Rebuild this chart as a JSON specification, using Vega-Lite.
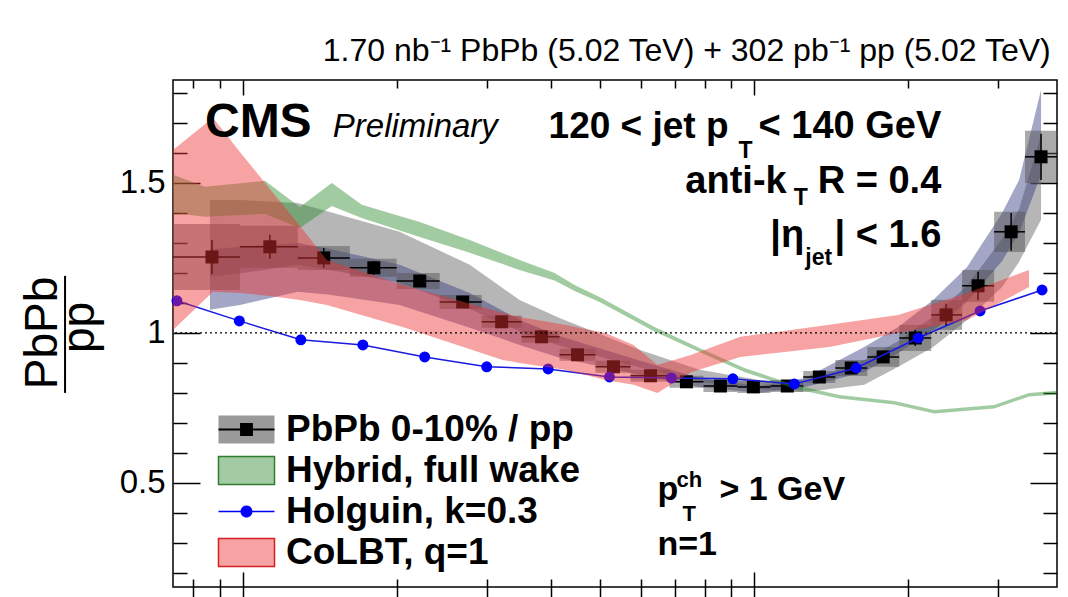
{
  "$schema": "https://vega.github.io/schema/vega-lite/v6.json",
  "width": 884,
  "height": 507,
  "autosize": {"type": "none"},
  "padding": {"left": 173, "top": 80, "right": 11, "bottom": 10},
  "background": "white",
  "title": {"text": "1.70 nb⁻¹ PbPb (5.02 TeV) + 302 pb⁻¹ pp (5.02 TeV)", "anchor": "end", "font": "Liberation Sans", "fontSize": 32, "fontWeight": "normal", "color": "black", "baseline": "alphabetic", "offset": -14, "dx": -7},
  "config": {
    "view": {"stroke": "black", "strokeWidth": 1.5},
    "axis": {"tickColor": "black", "tickWidth": 1.5, "domain": false, "grid": false, "labelColor": "black", "title": null}
  },
  "datasets": {
    "legend": [
      {"label": "PbPb 0-10% / pp"}, {"label": "Hybrid, full wake"}, {"label": "Holguin, k=0.3"}, {"label": "CoLBT, q=1"}
    ],
    "pbpb": [
      {"x": 0.870, "xlo": 0.730, "xhi": 0.9866, "y": 1.253, "elo": 1.196, "ehi": 1.310, "slo": 1.143, "shi": 1.363},
      {"x": 1.129, "xlo": 0.9866, "xhi": 1.280, "y": 1.287, "elo": 1.247, "ehi": 1.327, "slo": 1.217, "shi": 1.357},
      {"x": 1.439, "xlo": 1.280, "xhi": 1.618, "y": 1.250, "elo": 1.217, "ehi": 1.283, "slo": 1.210, "shi": 1.290},
      {"x": 1.803, "xlo": 1.618, "xhi": 1.998, "y": 1.217, "elo": 1.194, "ehi": 1.240, "slo": 1.187, "shi": 1.247},
      {"x": 2.217, "xlo": 1.998, "xhi": 2.425, "y": 1.173, "elo": 1.153, "ehi": 1.193, "slo": 1.146, "shi": 1.200},
      {"x": 2.690, "xlo": 2.425, "xhi": 2.930, "y": 1.103, "elo": 1.086, "ehi": 1.120, "slo": 1.080, "shi": 1.126},
      {"x": 3.206, "xlo": 2.930, "xhi": 3.507, "y": 1.037, "elo": 1.020, "ehi": 1.054, "slo": 1.017, "shi": 1.057},
      {"x": 3.837, "xlo": 3.507, "xhi": 4.160, "y": 0.987, "elo": 0.970, "ehi": 1.004, "slo": 0.967, "shi": 1.007},
      {"x": 4.511, "xlo": 4.160, "xhi": 4.891, "y": 0.927, "elo": 0.914, "ehi": 0.940, "slo": 0.907, "shi": 0.947},
      {"x": 5.303, "xlo": 4.891, "xhi": 5.726, "y": 0.887, "elo": 0.874, "ehi": 0.900, "slo": 0.867, "shi": 0.907},
      {"x": 6.264, "xlo": 5.726, "xhi": 6.823, "y": 0.857, "elo": 0.844, "ehi": 0.870, "slo": 0.837, "shi": 0.877},
      {"x": 7.365, "xlo": 6.823, "xhi": 7.953, "y": 0.837, "elo": 0.824, "ehi": 0.850, "slo": 0.817, "shi": 0.857},
      {"x": 8.583, "xlo": 7.953, "xhi": 9.265, "y": 0.823, "elo": 0.810, "ehi": 0.836, "slo": 0.803, "shi": 0.843},
      {"x": 9.955, "xlo": 9.265, "xhi": 10.75, "y": 0.820, "elo": 0.807, "ehi": 0.833, "slo": 0.800, "shi": 0.840},
      {"x": 11.60, "xlo": 10.75, "xhi": 12.46, "y": 0.823, "elo": 0.810, "ehi": 0.836, "slo": 0.803, "shi": 0.843},
      {"x": 13.40, "xlo": 12.46, "xhi": 14.40, "y": 0.853, "elo": 0.840, "ehi": 0.866, "slo": 0.833, "shi": 0.873},
      {"x": 15.47, "xlo": 14.40, "xhi": 16.63, "y": 0.883, "elo": 0.866, "ehi": 0.900, "slo": 0.856, "shi": 0.910},
      {"x": 17.86, "xlo": 16.63, "xhi": 19.20, "y": 0.920, "elo": 0.900, "ehi": 0.940, "slo": 0.887, "shi": 0.953},
      {"x": 20.63, "xlo": 19.20, "xhi": 22.17, "y": 0.983, "elo": 0.956, "ehi": 1.010, "slo": 0.940, "shi": 1.026},
      {"x": 23.71, "xlo": 22.17, "xhi": 25.48, "y": 1.060, "elo": 1.023, "ehi": 1.097, "slo": 1.010, "shi": 1.110},
      {"x": 27.38, "xlo": 25.48, "xhi": 29.43, "y": 1.157, "elo": 1.110, "ehi": 1.204, "slo": 1.104, "shi": 1.210},
      {"x": 31.77, "xlo": 29.43, "xhi": 33.82, "y": 1.337, "elo": 1.274, "ehi": 1.400, "slo": 1.270, "shi": 1.404},
      {"x": 36.35, "xlo": 33.82, "xhi": 39.06, "y": 1.587, "elo": 1.510, "ehi": 1.664, "slo": 1.500, "shi": 1.674}
    ],
    "holguin": [
      {"x": 0.743, "y": 1.107}, {"x": 0.984, "y": 1.040}, {"x": 1.298, "y": 0.977},
      {"x": 1.716, "y": 0.960}, {"x": 2.267, "y": 0.920}, {"x": 2.997, "y": 0.887},
      {"x": 3.952, "y": 0.880}, {"x": 5.209, "y": 0.853}, {"x": 6.884, "y": 0.850},
      {"x": 9.078, "y": 0.847}, {"x": 11.97, "y": 0.830}, {"x": 15.82, "y": 0.883},
      {"x": 20.91, "y": 0.983}, {"x": 27.63, "y": 1.073}, {"x": 36.52, "y": 1.143}
    ],
    "hybrid": [
      {"x": 0.730, "hi": 1.527, "lo": 1.400}, {"x": 0.843, "hi": 1.487, "lo": 1.387},
      {"x": 1.104, "hi": 1.507, "lo": 1.397}, {"x": 1.292, "hi": 1.420, "lo": 1.350},
      {"x": 1.492, "hi": 1.500, "lo": 1.423}, {"x": 1.708, "hi": 1.427, "lo": 1.383},
      {"x": 2.217, "hi": 1.370, "lo": 1.320}, {"x": 2.776, "hi": 1.310, "lo": 1.267},
      {"x": 3.475, "hi": 1.243, "lo": 1.210}, {"x": 4.068, "hi": 1.200, "lo": 1.175},
      {"x": 4.450, "hi": 1.160, "lo": 1.140}, {"x": 4.982, "hi": 1.120, "lo": 1.103},
      {"x": 6.377, "hi": 1.020, "lo": 1.005}, {"x": 7.810, "hi": 0.950, "lo": 0.936},
      {"x": 9.561, "hi": 0.883, "lo": 0.870}, {"x": 11.97, "hi": 0.827, "lo": 0.814},
      {"x": 14.66, "hi": 0.793, "lo": 0.781}, {"x": 18.77, "hi": 0.773, "lo": 0.761},
      {"x": 22.47, "hi": 0.743, "lo": 0.731}, {"x": 29.43, "hi": 0.760, "lo": 0.748},
      {"x": 34.44, "hi": 0.800, "lo": 0.788}, {"x": 39.06, "hi": 0.807, "lo": 0.795}
    ],
    "colbt": [
      {"x": 0.730, "hi": 1.610, "lo": 1.010}, {"x": 0.874, "hi": 1.717, "lo": 1.137},
      {"x": 0.9866, "hi": 1.603, "lo": 1.133}, {"x": 1.129, "hi": 1.480, "lo": 1.123},
      {"x": 1.292, "hi": 1.357, "lo": 1.110}, {"x": 1.459, "hi": 1.243, "lo": 1.093},
      {"x": 2.053, "hi": 1.160, "lo": 1.020}, {"x": 3.220, "hi": 1.067, "lo": 0.910},
      {"x": 3.475, "hi": 1.053, "lo": 0.900}, {"x": 4.255, "hi": 1.027, "lo": 0.877},
      {"x": 5.117, "hi": 1.000, "lo": 0.843}, {"x": 5.805, "hi": 0.960, "lo": 0.827},
      {"x": 6.463, "hi": 0.893, "lo": 0.800}, {"x": 7.534, "hi": 0.927, "lo": 0.870},
      {"x": 9.391, "hi": 0.987, "lo": 0.920}, {"x": 14.01, "hi": 1.027, "lo": 0.953},
      {"x": 19.11, "hi": 1.060, "lo": 1.000}, {"x": 26.06, "hi": 1.133, "lo": 1.043},
      {"x": 34.44, "hi": 1.210, "lo": 1.153}
    ],
    "grayband": [
      {"x": 0.862, "hi": 1.443, "lo": 1.187}, {"x": 0.9866, "hi": 1.443, "lo": 1.198},
      {"x": 1.280, "hi": 1.433, "lo": 1.227}, {"x": 1.479, "hi": 1.403, "lo": 1.210},
      {"x": 2.025, "hi": 1.337, "lo": 1.167}, {"x": 2.776, "hi": 1.227, "lo": 1.080},
      {"x": 3.475, "hi": 1.110, "lo": 1.005}, {"x": 4.160, "hi": 1.050, "lo": 0.957},
      {"x": 5.977, "hi": 0.943, "lo": 0.885}, {"x": 7.810, "hi": 0.877, "lo": 0.837},
      {"x": 10.23, "hi": 0.843, "lo": 0.813}, {"x": 12.58, "hi": 0.833, "lo": 0.803},
      {"x": 16.40, "hi": 0.910, "lo": 0.827}, {"x": 19.11, "hi": 0.973, "lo": 0.887},
      {"x": 22.37, "hi": 1.055, "lo": 0.953}, {"x": 26.06, "hi": 1.158, "lo": 1.043},
      {"x": 30.51, "hi": 1.313, "lo": 1.153}, {"x": 32.93, "hi": 1.413, "lo": 1.237},
      {"x": 36.35, "hi": 1.658, "lo": 1.377}
    ],
    "blueband": [
      {"x": 0.862, "hi": 1.278, "lo": 1.077}, {"x": 0.9866, "hi": 1.287, "lo": 1.093},
      {"x": 1.280, "hi": 1.300, "lo": 1.137}, {"x": 1.479, "hi": 1.280, "lo": 1.127},
      {"x": 2.025, "hi": 1.227, "lo": 1.093}, {"x": 2.776, "hi": 1.133, "lo": 1.017},
      {"x": 3.475, "hi": 1.043, "lo": 0.960}, {"x": 4.160, "hi": 0.990, "lo": 0.917},
      {"x": 5.977, "hi": 0.907, "lo": 0.860}, {"x": 7.810, "hi": 0.850, "lo": 0.820},
      {"x": 10.23, "hi": 0.823, "lo": 0.800}, {"x": 12.58, "hi": 0.850, "lo": 0.820},
      {"x": 16.40, "hi": 0.953, "lo": 0.870}, {"x": 19.11, "hi": 1.020, "lo": 0.933},
      {"x": 22.37, "hi": 1.110, "lo": 1.008}, {"x": 26.06, "hi": 1.220, "lo": 1.105},
      {"x": 30.51, "hi": 1.400, "lo": 1.240}, {"x": 32.93, "hi": 1.510, "lo": 1.333},
      {"x": 36.35, "hi": 1.810, "lo": 1.528}
    ]
  },
  "layer": [
    {
      "data": {"name": "legend"},
      "mark": {"type": "point", "opacity": 0, "filled": true},
      "encoding": {
        "fill": {"field": "label", "type": "nominal",
          "scale": {"domain": ["PbPb 0-10% / pp", "Hybrid, full wake", "Holguin, k=0.3", "CoLBT, q=1"], "range": ["#9a9a9a", "#a3cba3", "#0000ff", "#f7a3a3"]},
          "legend": {
            "orient": "none", "legendX": 55, "legendY": 331, "title": null, "direction": "vertical", "zindex": 1,
            "symbolSize": 784, "symbolOpacity": 1, "symbolStrokeWidth": 1.5,
            "labelFont": "Liberation Sans", "labelFontWeight": "bold", "labelFontSize": 37, "labelColor": "black", "labelLimit": 0,
            "labelOffset": 21, "rowPadding": 3, "padding": 0, "offset": 0
          }
        },
        "stroke": {"field": "label", "type": "nominal",
          "scale": {"domain": ["PbPb 0-10% / pp", "Hybrid, full wake", "Holguin, k=0.3", "CoLBT, q=1"], "range": ["transparent", "#2e7d2e", "transparent", "#d42020"]},
          "legend": {
            "orient": "none", "legendX": 55, "legendY": 331, "title": null, "direction": "vertical", "zindex": 1,
            "symbolSize": 784, "symbolOpacity": 1, "symbolStrokeWidth": 1.5,
            "labelFont": "Liberation Sans", "labelFontWeight": "bold", "labelFontSize": 37, "labelColor": "black", "labelLimit": 0,
            "labelOffset": 21, "rowPadding": 3, "padding": 0, "offset": 0
          }
        },
        "shape": {"field": "label", "type": "nominal",
          "scale": {"domain": ["PbPb 0-10% / pp", "Hybrid, full wake", "Holguin, k=0.3", "CoLBT, q=1"], "range": ["M-2,-1H2V1H-2Z", "M-2,-1H2V1H-2Z", "M-2,-0.06H2V0.06H-2ZM0.43,0A0.43,0.43,0,1,1,-0.43,0A0.43,0.43,0,1,1,0.43,0Z", "M-2,-1H2V1H-2Z"]},
          "legend": {
            "orient": "none", "legendX": 55, "legendY": 331, "title": null, "direction": "vertical", "zindex": 1,
            "symbolSize": 784, "symbolOpacity": 1, "symbolStrokeWidth": 1.5,
            "labelFont": "Liberation Sans", "labelFontWeight": "bold", "labelFontSize": 37, "labelColor": "black", "labelLimit": 0,
            "labelOffset": 21, "rowPadding": 3, "padding": 0, "offset": 0
          }
        }
      }
    },
    {
      "data": {"name": "grayband"},
      "mark": {"type": "area", "fill": "#7a7a7a", "fillOpacity": 0.55},
      "encoding": {
        "x": {"field": "x", "type": "quantitative", "scale": {"type": "log", "domain": [0.73, 39.06], "nice": false},
              "axis": {"orient": "bottom", "values": [1, 10], "tickSize": -15, "labels": false}},
        "y": {"field": "hi", "type": "quantitative", "scale": {"domain": [0.153, 1.843], "nice": false, "zero": false},
              "axis": {"orient": "left", "values": [0.5, 1, 1.5], "tickSize": -27, "format": "~g", "labelFont": "Liberation Sans", "labelFontSize": 33, "labelPadding": 35}},
        "y2": {"field": "lo"}
      }
    },
    {
      "data": {"name": "blueband"},
      "mark": {"type": "area", "fill": "#343a7c", "fillOpacity": 0.45},
      "encoding": {
        "x": {"field": "x", "type": "quantitative", "axis": {"orient": "top", "values": [1, 10], "tickSize": -15, "labels": false}},
        "y": {"field": "hi", "type": "quantitative", "axis": {"orient": "right", "values": [0.5, 1, 1.5], "tickSize": -27, "labels": false}},
        "y2": {"field": "lo"}
      }
    },
    {
      "data": {"name": "pbpb"},
      "mark": {"type": "rect", "fill": "#555555", "fillOpacity": 0.5},
      "encoding": {
        "x": {"field": "xlo", "type": "quantitative", "axis": {"orient": "bottom", "values": [0.8, 0.9, 2, 3, 4, 5, 6, 7, 8, 9, 20, 30], "tickSize": -8, "labels": false}},
        "x2": {"field": "xhi"},
        "y": {"field": "slo", "type": "quantitative", "axis": {"orient": "left", "values": [0.2, 0.3, 0.4, 0.6, 0.7, 0.8, 0.9, 1.1, 1.2, 1.3, 1.4, 1.6, 1.7, 1.8], "tickSize": -14, "labels": false}},
        "y2": {"field": "shi"}
      }
    },
    {
      "data": {"name": "pbpb"},
      "mark": {"type": "rule", "color": "black", "strokeWidth": 1.5},
      "encoding": {
        "x": {"field": "x", "type": "quantitative", "axis": {"orient": "top", "values": [0.8, 0.9, 2, 3, 4, 5, 6, 7, 8, 9, 20, 30], "tickSize": -8, "labels": false}},
        "y": {"field": "elo", "type": "quantitative", "axis": {"orient": "right", "values": [0.2, 0.3, 0.4, 0.6, 0.7, 0.8, 0.9, 1.1, 1.2, 1.3, 1.4, 1.6, 1.7, 1.8], "tickSize": -14, "labels": false}},
        "y2": {"field": "ehi"}
      }
    },
    {
      "data": {"name": "pbpb"},
      "mark": {"type": "rule", "color": "black", "strokeWidth": 1.5},
      "encoding": {
        "x": {"field": "xlo", "type": "quantitative", "axis": {"orient": "bottom", "values": [0.8, 0.9, 1, 2, 3, 4, 5, 6, 7, 8, 9, 10, 20, 30], "tickSize": 10, "labels": false}},
        "x2": {"field": "xhi"},
        "y": {"field": "y", "type": "quantitative", "axis": null}
      }
    },
    {
      "data": {"name": "pbpb"},
      "mark": {"type": "square", "size": 169, "filled": true, "opacity": 1},
      "encoding": {
        "x": {"field": "x", "type": "quantitative", "axis": null},
        "y": {"field": "y", "type": "quantitative", "axis": null},
        "color": {"datum": "PbPb 0-10% / pp", "type": "nominal",
          "scale": {"domain": ["PbPb 0-10% / pp"], "range": ["black"]},
          "legend": {
            "orient": "none", "legendX": 55, "legendY": 331, "title": null, "direction": "vertical", "zindex": 5,
            "symbolType": "M-2,-0.08H2V0.08H-2ZM-0.46,-0.46H0.46V0.46H-0.46Z", "symbolSize": 784, "symbolOpacity": 1, "symbolStrokeWidth": 0,
            "labelFont": "Liberation Sans", "labelFontWeight": "bold", "labelFontSize": 37, "labelColor": "black", "labelOpacity": 0, "labelLimit": 0,
            "labelOffset": 21, "rowPadding": 3, "padding": 0, "offset": 0
          }
        }
      }
    },
    {
      "data": {"name": "hybrid"},
      "mark": {"type": "area", "fill": "#2e8b2e", "fillOpacity": 0.45},
      "encoding": {
        "x": {"field": "x", "type": "quantitative", "axis": null},
        "y": {"field": "hi", "type": "quantitative", "axis": null},
        "y2": {"field": "lo"}
      }
    },
    {
      "data": {"name": "holguin"},
      "mark": {"type": "line", "color": "#1a1ae0", "strokeWidth": 1.5},
      "encoding": {
        "x": {"field": "x", "type": "quantitative", "axis": null},
        "y": {"field": "y", "type": "quantitative", "axis": null}
      }
    },
    {
      "data": {"name": "holguin"},
      "mark": {"type": "circle", "size": 120, "opacity": 1, "color": "#0000ff"},
      "encoding": {
        "x": {"field": "x", "type": "quantitative", "axis": null},
        "y": {"field": "y", "type": "quantitative", "axis": null}
      }
    },
    {
      "data": {"name": "colbt"},
      "mark": {"type": "area", "fill": "#ee3333", "fillOpacity": 0.45},
      "encoding": {
        "x": {"field": "x", "type": "quantitative", "axis": null},
        "y": {"field": "hi", "type": "quantitative", "axis": null},
        "y2": {"field": "lo"}
      }
    },
    {
      "data": {"values": [{}]},
      "mark": {"type": "rule", "color": "black", "strokeWidth": 1.2, "strokeDash": [2, 3]},
      "encoding": {"y": {"datum": 1, "type": "quantitative", "axis": null}}
    },
    {
      "data": {"values": [{}]},
      "mark": {"type": "text", "text": "CMS", "font": "Liberation Sans", "fontWeight": "bold", "fontSize": 48, "align": "left", "baseline": "alphabetic", "color": "black"},
      "encoding": {"x": {"datum": 0.843, "type": "quantitative", "axis": null}, "y": {"datum": 1.653, "type": "quantitative", "axis": null}}
    },
    {
      "data": {"values": [{}]},
      "mark": {"type": "text", "text": "Preliminary", "font": "Liberation Sans", "fontStyle": "italic", "fontSize": 33, "align": "left", "baseline": "alphabetic", "color": "black"},
      "encoding": {"x": {"datum": 1.499, "type": "quantitative", "axis": null}, "y": {"datum": 1.653, "type": "quantitative", "axis": null}}
    },
    {
      "data": {"values": [{}]},
      "mark": {"type": "text", "text": "120 < jet p", "font": "Liberation Sans", "fontWeight": "bold", "fontSize": 37, "align": "left", "baseline": "alphabetic", "color": "black"},
      "encoding": {"x": {"datum": 3.96, "type": "quantitative", "axis": null}, "y": {"datum": 1.65, "type": "quantitative", "axis": null}}
    },
    {
      "data": {"values": [{}]},
      "mark": {"type": "text", "text": "T", "font": "Liberation Sans", "fontWeight": "bold", "fontSize": 23, "align": "left", "baseline": "alphabetic", "color": "black"},
      "encoding": {"x": {"datum": 9.306, "type": "quantitative", "axis": null}, "y": {"datum": 1.583, "type": "quantitative", "axis": null}}
    },
    {
      "data": {"values": [{}]},
      "mark": {"type": "text", "text": "< 140 GeV", "font": "Liberation Sans", "fontWeight": "bold", "fontSize": 38, "align": "right", "baseline": "alphabetic", "color": "black"},
      "encoding": {"x": {"datum": 23.2, "type": "quantitative", "axis": null}, "y": {"datum": 1.65, "type": "quantitative", "axis": null}}
    },
    {
      "data": {"values": [{}]},
      "mark": {"type": "text", "text": "anti-k", "font": "Liberation Sans", "fontWeight": "bold", "fontSize": 38, "align": "left", "baseline": "alphabetic", "color": "black"},
      "encoding": {"x": {"datum": 7.33, "type": "quantitative", "axis": null}, "y": {"datum": 1.467, "type": "quantitative", "axis": null}}
    },
    {
      "data": {"values": [{}]},
      "mark": {"type": "text", "text": "T", "font": "Liberation Sans", "fontWeight": "bold", "fontSize": 23, "align": "left", "baseline": "alphabetic", "color": "black"},
      "encoding": {"x": {"datum": 11.94, "type": "quantitative", "axis": null}, "y": {"datum": 1.427, "type": "quantitative", "axis": null}}
    },
    {
      "data": {"values": [{}]},
      "mark": {"type": "text", "text": "R = 0.4", "font": "Liberation Sans", "fontWeight": "bold", "fontSize": 38, "align": "right", "baseline": "alphabetic", "color": "black"},
      "encoding": {"x": {"datum": 23.2, "type": "quantitative", "axis": null}, "y": {"datum": 1.467, "type": "quantitative", "axis": null}}
    },
    {
      "data": {"values": [{}]},
      "mark": {"type": "text", "text": "|η", "font": "Liberation Sans", "fontWeight": "bold", "fontSize": 38, "align": "left", "baseline": "alphabetic", "color": "black"},
      "encoding": {"x": {"datum": 10.746, "type": "quantitative", "axis": null}, "y": {"datum": 1.287, "type": "quantitative", "axis": null}}
    },
    {
      "data": {"values": [{}]},
      "mark": {"type": "text", "text": "jet", "font": "Liberation Sans", "fontWeight": "bold", "fontSize": 23, "align": "left", "baseline": "alphabetic", "color": "black"},
      "encoding": {"x": {"datum": 12.58, "type": "quantitative", "axis": null}, "y": {"datum": 1.227, "type": "quantitative", "axis": null}}
    },
    {
      "data": {"values": [{}]},
      "mark": {"type": "text", "text": "| < 1.6", "font": "Liberation Sans", "fontWeight": "bold", "fontSize": 38, "align": "right", "baseline": "alphabetic", "color": "black"},
      "encoding": {"x": {"datum": 23.2, "type": "quantitative", "axis": null}, "y": {"datum": 1.287, "type": "quantitative", "axis": null}}
    },
    {
      "data": {"values": [{}]},
      "mark": {"type": "text", "text": "p", "font": "Liberation Sans", "fontWeight": "bold", "fontSize": 34, "align": "left", "baseline": "alphabetic", "color": "black"},
      "encoding": {"x": {"datum": 6.463, "type": "quantitative", "axis": null}, "y": {"datum": 0.443, "type": "quantitative", "axis": null}}
    },
    {
      "data": {"values": [{}]},
      "mark": {"type": "text", "text": "ch", "font": "Liberation Sans", "fontWeight": "bold", "fontSize": 22, "align": "left", "baseline": "alphabetic", "color": "black"},
      "encoding": {"x": {"datum": 7.043, "type": "quantitative", "axis": null}, "y": {"datum": 0.487, "type": "quantitative", "axis": null}}
    },
    {
      "data": {"values": [{}]},
      "mark": {"type": "text", "text": "T", "font": "Liberation Sans", "fontWeight": "bold", "fontSize": 22, "align": "left", "baseline": "alphabetic", "color": "black"},
      "encoding": {"x": {"datum": 7.234, "type": "quantitative", "axis": null}, "y": {"datum": 0.373, "type": "quantitative", "axis": null}}
    },
    {
      "data": {"values": [{}]},
      "mark": {"type": "text", "text": "> 1 GeV", "font": "Liberation Sans", "fontWeight": "bold", "fontSize": 34, "align": "left", "baseline": "alphabetic", "color": "black"},
      "encoding": {"x": {"datum": 8.545, "type": "quantitative", "axis": null}, "y": {"datum": 0.443, "type": "quantitative", "axis": null}}
    },
    {
      "data": {"values": [{}]},
      "mark": {"type": "text", "text": "n=1", "font": "Liberation Sans", "fontWeight": "bold", "fontSize": 34, "align": "left", "baseline": "alphabetic", "color": "black"},
      "encoding": {"x": {"datum": 6.463, "type": "quantitative", "axis": null}, "y": {"datum": 0.26, "type": "quantitative", "axis": null}}
    },
    {
      "data": {"values": [{}]},
      "mark": {"type": "text", "text": "PbPb", "font": "Liberation Sans", "fontSize": 46, "angle": 270, "align": "center", "baseline": "alphabetic", "color": "black"},
      "encoding": {"x": {"datum": 0.4332, "type": "quantitative", "axis": null}, "y": {"datum": 1.0, "type": "quantitative", "axis": null}}
    },
    {
      "data": {"values": [{}]},
      "mark": {"type": "text", "text": "pp", "font": "Liberation Sans", "fontSize": 46, "angle": 270, "align": "center", "baseline": "alphabetic", "color": "black"},
      "encoding": {"x": {"datum": 0.5117, "type": "quantitative", "axis": null}, "y": {"datum": 1.018, "type": "quantitative", "axis": null}}
    },
    {
      "data": {"values": [{}]},
      "mark": {"type": "rule", "color": "black", "strokeWidth": 2},
      "encoding": {"x": {"datum": 0.449, "type": "quantitative", "axis": null}, "y": {"datum": 1.19, "type": "quantitative", "axis": null}, "y2": {"datum": 0.80}}
    }
  ],
  "resolve": {"axis": {"x": "independent", "y": "independent"}}
}
